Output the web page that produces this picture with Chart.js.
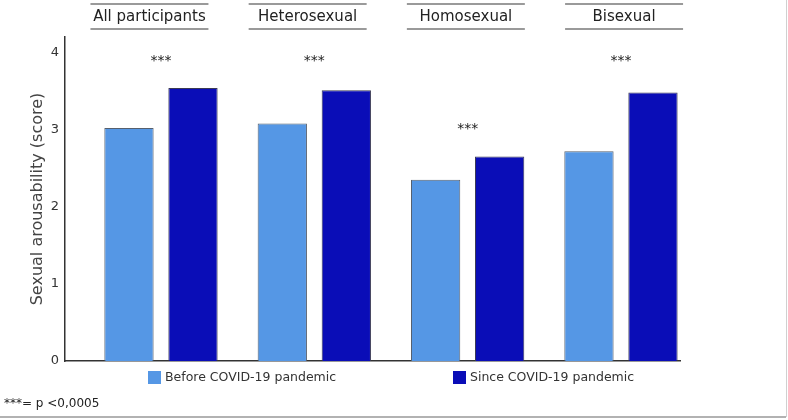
<!DOCTYPE html>
<html>
<head>
<meta charset="utf-8">
<script src="https://cdn.jsdelivr.net/npm/chart.js@4"></script>
<style>
  html, body { margin: 0; padding: 0; background: #fff; }
  #wrap { width: 788px; height: 420px; position: relative; }
</style>
</head>
<body>
<div id="wrap"><canvas id="chart"></canvas></div>
<script>
// groups shown as strip headers above the bars
const groups = ['All participants', 'Heterosexual', 'Homosexual', 'Bisexual'];
const seriesNames = ['Before COVID-19 pandemic', 'Since COVID-19 pandemic'];
const beforeScores = [3.02, 3.08, 2.35, 2.72];
const sinceScores = [3.54, 3.51, 2.65, 3.48];
// where the "***" marks sit, in score units
const sigLevels = [3.92, 3.92, 3.04, 3.92];
const sigText = '***';
const footnote = '***= p <0,0005';
const yTicks = [0, 1, 2, 3, 4];

const lightBlue = '#5597e5';
const darkBlue = '#0a0db7';
const fontFamily = '"DejaVu Sans", sans-serif';

const toPoints = vals => vals.map((v, i) => ({ x: i, y: v }));

const stripPlugin = {
    id: 'strips',
    afterDraw(chart) {
        const ctx = chart.ctx;
        const x = chart.scales.x;
        const y = chart.scales.y;
        ctx.save();

        // header strips, spread a bit wider than the bar groups
        const stripLeft = x.getPixelForValue(-0.46);
        const stripRight = x.getPixelForValue(3.405);
        const stripW = 118;
        const pitch = (stripRight - stripLeft - stripW) / (groups.length - 1);
        groups.forEach((name, i) => {
            const cx = stripLeft + stripW / 2 + i * pitch;
            ctx.strokeStyle = '#7a7a7a';
            ctx.lineWidth = 1.5;
            ctx.beginPath();
            ctx.moveTo(cx - stripW / 2, 4);
            ctx.lineTo(cx + stripW / 2, 4);
            ctx.moveTo(cx - stripW / 2, 29);
            ctx.lineTo(cx + stripW / 2, 29);
            ctx.stroke();
            ctx.fillStyle = '#222';
            ctx.font = '15px ' + fontFamily;
            ctx.textAlign = 'center';
            ctx.textBaseline = 'middle';
            ctx.fillText(name, cx, 17);
        });

        // significance stars
        ctx.font = '14px ' + fontFamily;
        ctx.fillStyle = '#222';
        sigLevels.forEach((lvl, i) => {
            ctx.fillText(sigText, x.getPixelForValue(i), y.getPixelForValue(lvl) + 3);
        });

        // legend
        const legendItems = [
            { text: seriesNames[0], color: lightBlue, left: 148 },
            { text: seriesNames[1], color: darkBlue, left: 453 }
        ];
        ctx.font = '12.5px ' + fontFamily;
        ctx.textAlign = 'left';
        legendItems.forEach(item => {
            ctx.fillStyle = item.color;
            ctx.fillRect(item.left, 371, 13, 13);
            ctx.fillStyle = '#333';
            ctx.fillText(item.text, item.left + 17, 378);
        });

        // footnote and frame rules
        ctx.font = '12px ' + fontFamily;
        ctx.fillStyle = '#222';
        ctx.fillText(footnote, 4, 404);
        ctx.strokeStyle = '#999';
        ctx.lineWidth = 1.5;
        ctx.beginPath();
        ctx.moveTo(0, 417);
        ctx.lineTo(786, 417);
        ctx.stroke();
        ctx.strokeStyle = '#d0d0d0';
        ctx.lineWidth = 1;
        ctx.beginPath();
        ctx.moveTo(786.5, 0);
        ctx.lineTo(786.5, 417);
        ctx.stroke();
        ctx.restore();
    }
};

new Chart(document.getElementById('chart'), {
    type: 'bar',
    data: {
        datasets: [
            {
                label: seriesNames[0],
                data: toPoints(beforeScores),
                backgroundColor: lightBlue,
                borderColor: '#56606e',
                borderWidth: 1,
                barPercentage: 0.77,
                categoryPercentage: 0.835
            },
            {
                label: seriesNames[1],
                data: toPoints(sinceScores),
                backgroundColor: darkBlue,
                borderColor: '#3a3a55',
                borderWidth: 1,
                barPercentage: 0.77,
                categoryPercentage: 0.835
            }
        ]
    },
    options: {
        responsive: true,
        maintainAspectRatio: false,
        animation: false,
        layout: { padding: { top: 37, right: 108, bottom: 59, left: 0 } },
        plugins: {
            legend: { display: false },
            tooltip: { enabled: false }
        },
        scales: {
            x: {
                type: 'linear',
                min: -0.626,
                max: 3.385,
                offset: false,
                bounds: 'data',
                grid: { display: false, offset: false },
                border: { color: '#333', width: 1.5 },
                ticks: { display: false },
                afterBuildTicks: scale => { scale.ticks = groups.map((g, i) => ({ value: i })); },
                afterFit: scale => { scale.height = 0; }
            },
            y: {
                min: 0,
                max: 4.2,
                grid: { display: false, drawTicks: false },
                border: { color: '#333', width: 1.5 },
                afterBuildTicks: scale => { scale.ticks = yTicks.map(v => ({ value: v })); },
                ticks: {
                    padding: 6,
                    color: '#333',
                    font: { family: fontFamily, size: 13 }
                },
                title: {
                    display: true,
                    text: 'Sexual arousability (score)',
                    color: '#444',
                    font: { family: fontFamily, size: 16 },
                    padding: { top: 28, bottom: 4 }
                },
                afterFit: scale => { scale.width = 65; }
            }
        }
    },
    plugins: [stripPlugin]
});
</script>
</body>
</html>
